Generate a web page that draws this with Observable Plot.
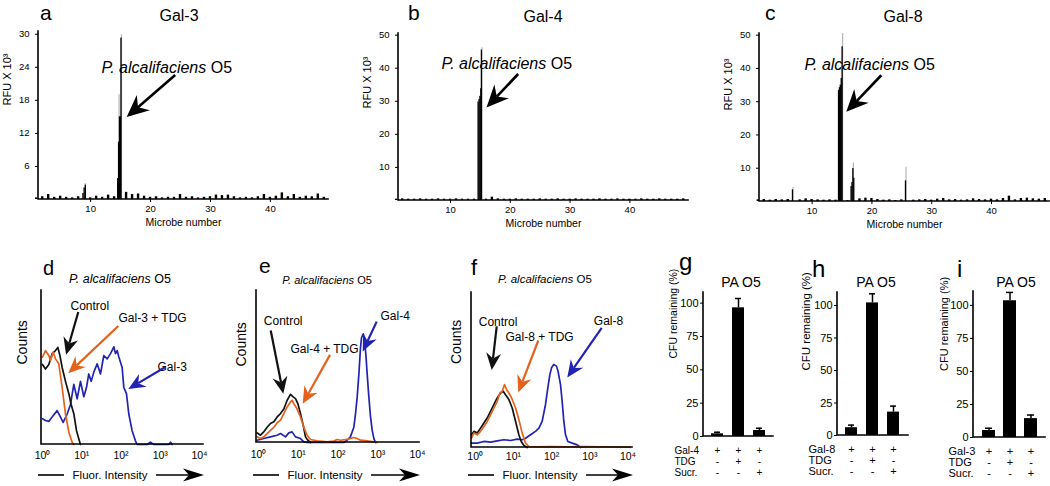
<!DOCTYPE html>
<html><head><meta charset="utf-8">
<script src="https://cdn.jsdelivr.net/npm/d3@7"></script>
<script src="https://cdn.jsdelivr.net/npm/@observablehq/plot@0.6"></script>
<style>
body{margin:0;background:#fff;}
#fig{position:relative;width:1050px;height:486px;overflow:hidden;background:#fff;}
</style></head><body><div id="fig"></div>
<script>
// ================= DATA =================
// --- Top row: microbial glycan array (RFU x 10^3 per microbe) ---
const microbeNumbers = [1,2,3,4,5,6,7,8,9,10,11,12,13,14,15,16,17,18,19,20,21,22,23,24,25,26,27,28,29,30,31,32,33,34,35,36,37,38,39,40,41,42,43,44,45,46,47,48,49];
const rfuGal3 = [0.3,0.5,0.9,0.4,0.6,0.4,0.3,0.5,0,0.3, 0.6,0.4,0.8,0.5,0,1.3,0.9,1.0,0.6,0.4, 0.5,0.3,0.4,0.4,0.9,0.4,0.5,0.3,0.4,0.5, 0.8,0.7,0.8,0.5,0.3,0.4,0.3,0.5,0.9,0.4, 0.6,1.2,0.5,0.9,0.4,0.6,0.5,1.0,0.4];
const rfuGal4 = [0.4,0.5,0.4,0.4,0.5,0.4,0.4,0.5,0.4,0.4, 0.5,0.4,0.4,0.4,0,0.4,1.0,0.5,0.4,0.4, 0.5,0.4,0.4,0.4,0.5,0.4,0.4,0.5,0.4,0.4, 0.5,0.4,0.4,0.4,0.5,0.4,0.4,0.5,0.4,0.4, 0.4,0.5,0.4,0.4,0.5,0.4,0.4,0.4,0.5];
const rfuGal8 = [0.5,0.6,0.4,0.6,0.5,0.6,0,0.5,0.8,0.6, 0.5,0.4,0.5,0.4,0,0.3,0,0.8,1.0,0.9, 0.6,0.4,0.5,0.3,0.5,0,0.4,0.5,0.6,0.4, 0.7,0.9,0.5,0.6,0.4,0.5,0.8,0.6,0.5,0.7, 0.5,0.9,1.6,0.5,0.9,1.0,0.8,0.7,0.9];
// replicate sub-bars of the strongly bound microbes
const gal3SubX = [8.8, 9.0, 9.2, 14.6, 14.75, 14.9, 15.05, 15.15];
const gal3SubRFU = [1.1, 2.1, 2.6, 3.8, 10.4, 15.0, 15.0, 29.3];
const gal3ErrX = [9.1, 14.75, 15.15];
const gal3ErrRFU = [2.9, 19.0, 29.9];
const gal4SubX = [14.7, 14.85, 15.0, 15.15, 15.25];
const gal4SubRFU = [29.8, 30.5, 31.5, 33.8, 45.5];
const gal4ErrX = [15.25];
const gal4ErrRFU = [46.2];
const gal8SubX = [6.8, 14.5, 14.65, 14.8, 14.95, 15.1, 16.6, 16.75, 16.9, 17.05, 25.7];
const gal8SubRFU = [3.5, 33.4, 34.2, 35.0, 37.0, 46.5, 4.5, 5.7, 9.9, 7.0, 6.2];
const gal8ErrX = [6.8, 15.1, 16.9, 25.7];
const gal8ErrRFU = [4.2, 50.5, 11.6, 10.3];

// --- Bottom row: flow cytometry histograms (fluorescence intensity, counts) ---
const dControlX = [1.0,1.19,1.45,1.76,2.14,2.46,2.77,3.17,3.85,4.69,5.37,6.28,7.35,8.43,9.29];
const dControlY = [52,49,52,59,61,63,58,50,41,33,26,20,9,3.5,0];
const dTdgX = [1.0,1.19,1.45,1.6,1.87,2.14,2.6,3.17,3.85,4.69,5.7,6.28];
const dTdgY = [56.7,61,57.8,54.5,60,55.6,52.4,37,19.8,8,1.5,0];
const dGalX = [1.0,1.19,1.45,1.76,2.36,2.77,3.36,4.25,5.17,6.28,7.64,9.29,11.3,13.2,15.1,17.4,20.3,24.7,30.0,36.5,44.4,54.0,65.7,72.4,79.9,87.8,107,118,138,158,192,233,258,465,565,687,1660,1830,2000];
const dGalY = [16.7,15.6,15,17.8,22,18.6,14.3,19.8,26,39,29.7,41,31,37,45.8,41,47,52.4,45.8,57.8,55.6,59,63.4,59,61,57,50,37,33,19.8,9,2.4,0,0,1.5,0,0,1.5,0];

const eControlX = [0.925,1.12,1.36,1.65,2.0,2.43,2.95,3.58,4.34,5.26,6.38,7.45,8.53,9.77,11.4,13.3,15.2,17.4,20.3];
const eControlY = [6.3,4.8,7,10,12.5,13.6,16.8,19,22,27.8,31.7,30,28.9,25.6,19,11.4,3.7,1.5,0];
const eTdgX = [0.925,1.12,1.36,1.65,2.0,2.43,2.95,3.58,4.34,5.26,6.38,7.0,7.72,9.36,11.4,13.8,16.7,20.3,29.8,53.3,78.4,95.1,115,170,250,302,366,539,793,960];
const eTdgY = [3.7,2.6,3.7,5.9,8,10,13,14.7,19,23.4,26.7,27.8,25.6,22,16.8,10,4.8,2,1.1,0.4,0.9,2,1.5,2,3.3,2.6,1.5,1.1,0.4,0];
const eGalX = [0.925,1.36,2.0,2.95,3.58,4.77,5.8,7.0,8.53,11.4,13.8,16.7,140,170,205,250,276,304,335,369,391,431,465,502,542,597,658,725,799,880];
const eGalY = [1.5,2.6,3.7,4.8,5.9,3.7,6.3,7,3.7,2.6,0.4,0,0,1.5,3.7,10,19,30,45,62.8,69,71.5,67,58,45,30,16.8,8,2.6,0];

const fControlX = [0.8,0.923,1.13,1.38,1.69,2.06,2.52,3.08,3.77,4.61,5.41,6.22,7.61,9.30,11.4,13.9,16.0,18.8,23.0];
const fControlY = [8.2,10.4,9.3,12.5,15.8,19,23.3,27.6,32,35.2,36.3,34,31,25.5,16.8,8.2,3.9,1.3,0];
const fTdgX = [0.8,0.923,1.13,1.38,1.69,2.06,2.52,3.08,3.77,4.42,5.09,5.86,6.61,7.61,9.30,11.4,13.9,17.0,20.8,25.4,41.9,93.7,256,700,1914,11500];
const fTdgY = [6,9.3,8.2,10.4,13.6,16.8,21,25.5,29.8,35.2,36.3,40.6,37.4,35.2,31,25.5,18,9.3,2.8,0.6,0.4,0.6,0.4,0.6,0.4,0.2];
const fGalX = [0.8,1.13,1.69,2.52,3.77,5.63,8.4,12.6,17.0,20.8,28.1,37.9,46.4,56.6,69.1,79.6,90.0,99.5,114,134,148,171,189,209,231,266,346,467,573];
const fGalY = [2.8,2.8,3.9,3.5,4.3,5,4.5,5.4,5,6,8.2,10.4,12.5,16.8,27.6,38.4,47,51.4,53.6,52.5,49,40.6,29.8,16.8,8.2,3.9,2.8,1.7,0];

// annotations of the histograms (label text, anchor in data units; arrow start/end in data units)
const dLabels = ["Control", "Gal-3 + TDG", "Gal-3"];
const dLabelX = [5.17, 86.5, 850], dLabelY = [90, 81.8, 50];
const dArrowX1 = [8.4, 88, 1360], dArrowY1 = [85.7, 76.6, 49.8], dArrowX2 = [4.1, 4.67, 158], dArrowY2 = [58, 45.9, 35.7];
const eLabels = ["Control", "Gal-4 + TDG", "Gal-4"];
const eLabelX = [1.36, 6.38, 1170], eLabelY = [79.6, 61.7, 83];
const eArrowX1 = [2.09, 64.8, 968], eArrowY1 = [73.3, 57.3, 79.2], eArrowX2 = [4.33, 13.3, 430], eArrowY2 = [31.7, 25.1, 59.5];
const fLabels = ["Control", "Gal-8 + TDG", "Gal-8"];
const fLabelX = [1.24, 6.21, 1274], fLabelY = [81, 71.3, 81.7];
const fArrowX1 = [3.77, 46.2, 2110], fArrowY1 = [77.8, 68.7, 76.9], fArrowX2 = [2.79, 13.8, 265], fArrowY2 = [49.7, 35.2, 44.9];

// --- CFU remaining (%) ---
const cfuConditions = ["c1", "c2", "c3"];
const tdgSigns = ["-", "+", "-"];
const sucrSigns = ["-", "-", "+"];
const galSigns = ["+", "+", "+"];
const cfuGal4 = [2, 96.5, 4.5], cfuGal4Err = [3.2, 103.5, 6.2];
const cfuGal8 = [6, 102, 18], cfuGal8Err = [8, 109, 22.6];
const cfuGal3 = [5.3, 103.5, 14.3], cfuGal3Err = [7, 109.8, 17];

// ================= HELPERS =================
const FONT = '"Liberation Sans", Arial, Helvetica, sans-serif';
const BLACK = "#111", ORANGE = "#E4621D", BLUE = "#2323B3";
const seriesColors = [BLACK, ORANGE, BLUE];
const fig = document.getElementById("fig");
function place(el, left, top) {
  el.style.position = "absolute"; el.style.left = left + "px"; el.style.top = top + "px";
  fig.appendChild(el);
}
const style = (fs) => ({background: "none", fontFamily: FONT, fontSize: fs + "px", color: "#000", overflow: "visible"});

// axis lines along frame left and bottom
function axisLines(w = 1.5) {
  return (index, scales, values, dim) => {
    const {width, height, marginLeft: L, marginRight: R, marginTop: T, marginBottom: B} = dim;
    const g = d3.create("svg:g").attr("stroke", "#000").attr("stroke-width", w).attr("fill", "none");
    g.append("path").attr("d", `M${L},${T}V${height - B}H${width - R}`).attr("stroke-linecap", "square");
    return g.node();
  };
}
// filled, notched arrows in data coordinates
function fatArrows(x1s, y1s, x2s, y2s, colors, {head = 17, half = 7.5, shaft = 2} = {}) {
  return (index, scales) => {
    const g = d3.create("svg:g");
    x1s.forEach((_, i) => {
      const ax = scales.x(x1s[i]), ay = scales.y(y1s[i]), bx = scales.x(x2s[i]), by = scales.y(y2s[i]);
      const len = Math.hypot(bx - ax, by - ay), ux = (bx - ax) / len, uy = (by - ay) / len, px = -uy, py = ux;
      const baseX = bx - ux * head, baseY = by - uy * head;
      const nX = bx - ux * head * 0.68, nY = by - uy * head * 0.68;
      const c = Array.isArray(colors) ? colors[i] : colors;
      g.append("line").attr("x1", ax).attr("y1", ay).attr("x2", nX).attr("y2", nY)
        .attr("stroke", c).attr("stroke-width", shaft);
      g.append("path").attr("fill", c)
        .attr("d", `M${bx},${by}L${baseX + px * half},${baseY + py * half}L${nX},${nY}L${baseX - px * half},${baseY - py * half}Z`);
    });
    return g.node();
  };
}
// "P. alcalifaciens O5" style label (italic genus/species) at data coordinates
function speciesLabel(x, y, fontSize) {
  return (index, scales) => {
    const t = d3.create("svg:text").attr("x", scales.x(x)).attr("y", scales.y(y)).attr("dy", "0.36em")
      .attr("font-size", fontSize).attr("font-family", FONT).attr("fill", "#000");
    t.append("tspan").attr("font-style", "italic").text("P. alcalifaciens");
    t.append("tspan").text(" O5");
    return t.node();
  };
}
// "—— Fluor. Intensity ——>" under the histogram axes
function fluorAxis(offset) {
  return (index, scales, values, dim) => {
    const {width, height, marginLeft: L, marginRight: R, marginBottom: B} = dim;
    const y = height - B + offset, xr = width - R + 1;
    const g = d3.create("svg:g");
    g.append("line").attr("x1", L - 3).attr("x2", L + 23).attr("y1", y).attr("y2", y).attr("stroke", "#000").attr("stroke-width", 1.6);
    g.append("text").attr("x", L + 69).attr("y", y).attr("dy", "0.35em").attr("text-anchor", "middle")
      .attr("font-size", 11.5).attr("font-family", FONT).attr("fill", "#000").text("Fluor. Intensity");
    g.append("line").attr("x1", L + 115).attr("x2", xr - 14).attr("y1", y).attr("y2", y).attr("stroke", "#000").attr("stroke-width", 1.6);
    g.append("path").attr("fill", "#000").attr("d", `M${xr},${y}L${xr - 21},${y - 6.5}L${xr - 15},${y}L${xr - 21},${y + 6.5}Z`);
    return g.node();
  };
}
const toRows = (xs, ys, extra = {}) => xs.map((x, i) => ({x, v: ys[i], ...extra}));

// ================= TOP ROW =================
function topPanel({left, width, mL, mR, mT, mB, xDomain, yDomain, yTicks, base, subX, subV, errX, errV, ylabDx, ylabDy, ann}) {
  const baseRows = toRows(microbeNumbers, base);
  const subRows = toRows(subX, subV);
  const errRows = toRows(errX, errV);
  const p = Plot.plot({
    width, height: 240, marginLeft: mL, marginRight: mR, marginTop: mT, marginBottom: mB,
    style: style(9.5),
    x: {domain: xDomain, ticks: [10, 20, 30, 40], tickSize: 3, tickPadding: 3, label: null},
    y: {domain: yDomain, ticks: yTicks, tickSize: 3, tickPadding: 6, label: null},
    marks: [
      Plot.ruleX(errRows, {x: "x", y1: 0, y2: "v", stroke: "#b5b5b5", strokeWidth: 1.2}),
      Plot.rectY(baseRows, {x1: d => d.x - 0.2, x2: d => d.x + 0.2, y: "v", fill: "#000"}),
      Plot.rectY(subRows, {x1: d => d.x - 0.11, x2: d => d.x + 0.11, y: "v", fill: "#000"}),
      axisLines(1.6),
      Plot.text(["Microbe number"], {text: d => d, frameAnchor: "bottom", dy: 26, fontSize: 10.5}),
      Plot.text(["RFU X 10³"], {text: d => d, frameAnchor: "left", dx: ylabDx, dy: ylabDy, rotate: -90, fontSize: 11}),
      speciesLabel(ann.tx, ann.ty, 16),
      fatArrows([ann.x1], [ann.y1], [ann.x2], [ann.y2], "#000", {head: 22, half: 10, shaft: 2.6})
    ]
  });
  place(p, left, 0);
}
topPanel({left: 0, width: 345, mL: 38, mR: 17, mT: 31, mB: 41, xDomain: [1.3, 49.7], yDomain: [0, 30.5], yTicks: [6, 12, 18, 24, 30],
  base: rfuGal3, subX: gal3SubX, subV: gal3SubRFU, errX: gal3ErrX, errV: gal3ErrRFU, ylabDx: -31, ylabDy: -10,
  ann: {tx: 22.8, ty: 24.0, x1: 24.2, y1: 22.5, x2: 16.1, y2: 14.9}});
topPanel({left: 350, width: 345, mL: 48, mR: 7, mT: 33, mB: 40, xDomain: [1.3, 49.8], yDomain: [0, 50.5], yTicks: [10, 20, 30, 40, 50],
  base: rfuGal4, subX: gal4SubX, subV: gal4SubRFU, errX: gal4ErrX, errV: gal4ErrRFU, ylabDx: -31, ylabDy: -8.5,
  ann: {tx: 19.5, ty: 41.3, x1: 21.4, y1: 38.1, x2: 16.1, y2: 28.0}});
topPanel({left: 700, width: 350, mL: 59, mR: 1, mT: 33, mB: 39, xDomain: [1.2, 49.7], yDomain: [0, 50.5], yTicks: [10, 20, 30, 40, 50],
  base: rfuGal8, subX: gal8SubX, subV: gal8SubRFU, errX: gal8ErrX, errV: gal8ErrRFU, ylabDx: -31, ylabDy: -7,
  ann: {tx: 19.7, ty: 41.2, x1: 21.65, y1: 37.8, x2: 15.8, y2: 26.8}});

// ================= FLOW HISTOGRAMS =================
const supDigits = ["⁰", "¹", "²", "³", "⁴"];
function flowPanel({left, mL, mR, mT, mB, domain, curves, labels, lx, ly, ax1, ay1, ax2, ay2, fluorOffset, countsDx, countsDy, tickPad}) {
  const rows = curves.flatMap(([xs, ys], k) => toRows(xs, ys, {k}));
  const p = Plot.plot({
    width: 215, height: 236, marginLeft: mL, marginRight: mR, marginTop: mT, marginBottom: mB,
    style: style(10.5),
    x: {type: "log", domain, ticks: [1, 10, 100, 1000, 10000], tickFormat: d => "10" + supDigits[Math.round(Math.log10(d))], tickSize: 0, tickPadding: tickPad, label: null},
    y: {domain: [0, 100], axis: null},
    marks: [
      Plot.line(rows.filter(d => d.k === 2), {x: "x", y: "v", stroke: BLUE, strokeWidth: 1.7}),
      Plot.line(rows.filter(d => d.k === 0), {x: "x", y: "v", stroke: BLACK, strokeWidth: 1.7}),
      Plot.line(rows.filter(d => d.k === 1), {x: "x", y: "v", stroke: ORANGE, strokeWidth: 1.7}),
      axisLines(1.6),
      Plot.text(labels, {x: (d, i) => lx[i], y: (d, i) => ly[i], text: d => d, textAnchor: "start", fontSize: 12}),
      fatArrows(ax1, ay1, ax2, ay2, seriesColors, {head: 17, half: 7.5, shaft: 2.2}),
      Plot.text(["Counts"], {text: d => d, frameAnchor: "left", dx: countsDx, dy: countsDy, rotate: -90, fontSize: 14}),
      fluorAxis(fluorOffset)
    ]
  });
  place(p, left, 250);
}
flowPanel({left: 0, mL: 41, mR: 12, mT: 40, mB: 42, domain: [0.943, 12650],
  curves: [[dControlX, dControlY], [dTdgX, dTdgY], [dGalX, dGalY]],
  labels: dLabels, lx: dLabelX, ly: dLabelY, ax1: dArrowX1, ay1: dArrowY1, ax2: dArrowX2, ay2: dArrowY2,
  fluorOffset: 31, countsDx: -19, countsDy: -3, tickPad: 7});
flowPanel({left: 215, mL: 41, mR: 11, mT: 40, mB: 44, domain: [0.891, 11220],
  curves: [[eControlX, eControlY], [eTdgX, eTdgY], [eGalX, eGalY]],
  labels: eLabels, lx: eLabelX, ly: eLabelY, ax1: eArrowX1, ay1: eArrowY1, ax2: eArrowX2, ay2: eArrowY2,
  fluorOffset: 33, countsDx: -15, countsDy: 0, tickPad: 8});
flowPanel({left: 430, mL: 41, mR: 13, mT: 42, mB: 39, domain: [0.8, 13100],
  curves: [[fControlX, fControlY], [fTdgX, fTdgY], [fGalX, fGalY]],
  labels: fLabels, lx: fLabelX, ly: fLabelY, ax1: fArrowX1, ay1: fArrowY1, ax2: fArrowX2, ay2: fArrowY2,
  fluorOffset: 28, countsDx: -15, countsDy: -6, tickPad: 5});

// ================= CFU BAR CHARTS =================
function cfuPanel({left, width, mL, mR, mT, mB, yMax, vals, errs, galName, pi, po, rowFont, rowDx, ylabDx, ylabDy, ylabFont}) {
  const rows = cfuConditions.map((c, i) => ({c, v: vals[i], e: errs[i], sym: [galSigns[i], tdgSigns[i], sucrSigns[i]].join("\n")}));
  const p = Plot.plot({
    width, height: 236, marginLeft: mL, marginRight: mR, marginTop: mT, marginBottom: mB,
    style: style(11),
    x: {domain: cfuConditions, axis: null, paddingInner: pi, paddingOuter: po},
    y: {domain: [0, yMax], ticks: [0, 25, 50, 75, 100], tickSize: 3, tickPadding: 2, label: null},
    marks: [
      Plot.ruleX(rows, {x: "c", y1: "v", y2: "e", strokeWidth: 1.5}),
      Plot.tickY(rows, {x: "c", y: "e", strokeWidth: 1.5, insetLeft: 3, insetRight: 3}),
      Plot.barY(rows, {x: "c", y: "v", fill: "#000"}),
      axisLines(1.6),
      Plot.text(rows, {x: "c", text: "sym", frameAnchor: "bottom", lineAnchor: "top", dy: 9.5, fontSize: rowFont, lineHeight: 11 / rowFont}),
      Plot.text([[galName, "TDG", "Sucr."].join("\n")], {text: d => d, frameAnchor: "bottom-left", textAnchor: "start", lineAnchor: "top", dx: rowDx, dy: 9.5, fontSize: rowFont, lineHeight: 11 / rowFont}),
      Plot.text(["CFU remaining (%)"], {text: d => d, frameAnchor: "left", dx: ylabDx, dy: ylabDy, rotate: -90, fontSize: ylabFont})
    ]
  });
  place(p, left, 250);
}
cfuPanel({left: 660, width: 125, mL: 43, mR: 12, mT: 42, mB: 50, yMax: 108, vals: cfuGal4, errs: cfuGal4Err, galName: "Gal-4",
  pi: 0.41, po: 0.3, rowFont: 10, rowDx: -29, ylabDx: -30, ylabDy: -6, ylabFont: 10.5});
cfuPanel({left: 785, width: 130, mL: 52, mR: 7, mT: 42, mB: 51, yMax: 110, vals: cfuGal8, errs: cfuGal8Err, galName: "Gal-8",
  pi: 0.425, po: 0.356, rowFont: 11, rowDx: -29, ylabDx: -31, ylabDy: 6.5, ylabFont: 11.5});
cfuPanel({left: 915, width: 135, mL: 58, mR: 5, mT: 41, mB: 49, yMax: 110.5, vals: cfuGal3, errs: cfuGal3Err, galName: "Gal-3",
  pi: 0.386, po: 0.33, rowFont: 11, rowDx: -25, ylabDx: -29, ylabDy: 6.5, ylabFont: 11});

// ================= PANEL LETTERS & TITLES =================
const overlay = d3.create("svg").attr("width", 1050).attr("height", 486)
  .style("position", "absolute").style("left", "0px").style("top", "0px").style("pointer-events", "none")
  .attr("font-family", FONT).attr("fill", "#000");
const letters = [["a", 40, 20, 21], ["b", 408, 20, 21], ["c", 765, 20, 21], ["d", 43, 275, 20], ["e", 259, 273, 21],
  ["f", 471, 275, 22], ["g", 679, 270, 24], ["h", 812, 277, 24], ["i", 957, 277, 24]];
for (const [t, x, y, s] of letters) overlay.append("text").attr("x", x).attr("y", y).attr("font-size", s).text(t);
for (const [t, x, y] of [["Gal-3", 179, 21], ["Gal-4", 543, 22], ["Gal-8", 903, 22]])
  overlay.append("text").attr("x", x).attr("y", y).attr("font-size", 16).attr("text-anchor", "middle").text(t);
for (const [x, y, s] of [[120, 283, 12.5], [327, 284, 11], [545, 283, 11.5]]) {
  const t = overlay.append("text").attr("x", x).attr("y", y).attr("font-size", s).attr("text-anchor", "middle");
  t.append("tspan").attr("font-style", "italic").text("P. alcalifaciens");
  t.append("tspan").text(" O5");
}
for (const x of [741, 876, 1016])
  overlay.append("text").attr("x", x).attr("y", 287).attr("font-size", 14).attr("text-anchor", "middle").text("PA O5");
fig.appendChild(overlay.node());
</script></body></html>
